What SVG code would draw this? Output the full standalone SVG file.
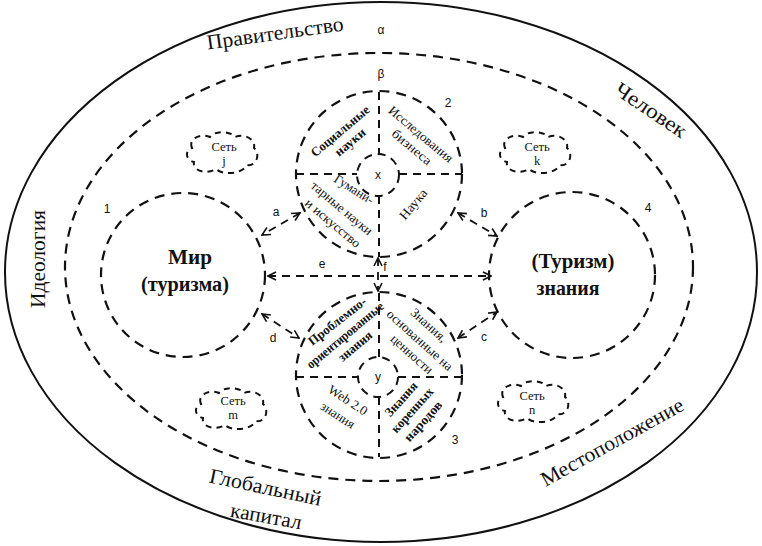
<svg xmlns="http://www.w3.org/2000/svg" xmlns:xlink="http://www.w3.org/1999/xlink" width="762" height="546" viewBox="0 0 762 546">
<style>
.dash{fill:none;stroke:#111;stroke-width:2.2;stroke-dasharray:10 7}
.dashs{fill:none;stroke:#111;stroke-width:2;stroke-dasharray:8 6}
.conn{fill:none;stroke:#111;stroke-width:1.8;stroke-dasharray:8 6;marker-start:url(#ah);marker-end:url(#ah)}
text{font-family:'Liberation Serif','DejaVu Serif','Times New Roman',serif;fill:#111}
.big{font-size:21px}
.main{font-size:22px;font-weight:bold;text-anchor:middle}
.sec{font-size:13px;text-anchor:middle;dominant-baseline:central}
.secb{font-size:13px;font-weight:bold;text-anchor:middle;dominant-baseline:central}
text.lbl{font-family:'Liberation Sans',Arial,sans-serif;font-size:12px;text-anchor:middle}
.net{font-size:12.5px;text-anchor:middle}
</style>
<defs>
<marker id="ah" viewBox="0 0 10 10" refX="9" refY="5" markerWidth="10" markerHeight="10" markerUnits="userSpaceOnUse" orient="auto-start-reverse">
<path d="M1,1 L9,5 L1,9" fill="none" stroke="#111" stroke-width="1.6"/>
</marker>
<path id="cloud" d="M-30,-6 C-34,-15 -22,-21 -12,-17 C-7,-24 9,-23 13,-17 C22,-21 34,-15 32,-6 C39,0 34,13 25,11 C19,21 0,21 -6,15 C-15,21 -30,17 -28,8 C-37,6 -37,-4 -30,-6 Z"/>
</defs>
<rect width="762" height="546" fill="#fff"/>

<g id="outer">
<ellipse cx="381" cy="272" rx="376" ry="270" fill="none" stroke="#111" stroke-width="2"/>
<text class="big" transform="translate(276,40) rotate(-8)" text-anchor="middle" textLength="138" lengthAdjust="spacingAndGlyphs">Правительство</text>
<text class="big" transform="translate(651,110) rotate(34)" text-anchor="middle" dominant-baseline="central" textLength="82" lengthAdjust="spacingAndGlyphs">Человек</text>
<text class="big" transform="translate(38,259) rotate(-90)" text-anchor="middle" dominant-baseline="central" textLength="98" lengthAdjust="spacingAndGlyphs">Идеология</text>
<text class="big" transform="translate(264,494) rotate(12)" text-anchor="middle" textLength="114" lengthAdjust="spacingAndGlyphs">Глобальный</text>
<text class="big" transform="translate(265,523) rotate(10)" text-anchor="middle" textLength="72" lengthAdjust="spacingAndGlyphs">капитал</text>
<text class="big" transform="translate(612,442) rotate(-29)" text-anchor="middle" dominant-baseline="central" textLength="160" lengthAdjust="spacingAndGlyphs">Местоположение</text>
<text class="lbl" x="381" y="34">α</text>
</g>

<g id="inner">
<ellipse cx="379" cy="267" rx="314" ry="214" class="dash"/>
<text class="lbl" x="381" y="78">β</text>
</g>

<g id="node1">
<circle cx="183" cy="275" r="82" class="dash"/>
<text class="main" x="190" y="264" textLength="44" lengthAdjust="spacingAndGlyphs">Мир</text>
<text class="main" x="185" y="291" textLength="88" lengthAdjust="spacingAndGlyphs">(туризма)</text>
<text class="lbl" x="107" y="213">1</text>
</g>

<g id="node4">
<circle cx="572" cy="275" r="83" class="dash"/>
<text class="main" x="573" y="268" textLength="83" lengthAdjust="spacingAndGlyphs">(Туризм)</text>
<text class="main" x="568" y="295" textLength="63" lengthAdjust="spacingAndGlyphs">знания</text>
<text class="lbl" x="648" y="212">4</text>
</g>

<g id="node2">
<circle cx="379" cy="174" r="83" class="dash"/>
<circle cx="378" cy="175" r="21" class="dashs"/>
<path d="M379,92 V154 M379,196 V257 M296,174 H357 M399,174 H462" class="dashs"/>
<text class="lbl" x="378" y="179">x</text>
<text class="lbl" x="448" y="107">2</text>
<text class="secb" transform="translate(340,131) rotate(-40)" textLength="72" lengthAdjust="spacingAndGlyphs">Социальные</text>
<text class="secb" transform="translate(350,142) rotate(-40)" textLength="36" lengthAdjust="spacingAndGlyphs">науки</text>
<text class="sec" transform="translate(421,134) rotate(40)" textLength="80" lengthAdjust="spacingAndGlyphs">Исследования</text>
<text class="sec" transform="translate(412,147) rotate(40)" textLength="48" lengthAdjust="spacingAndGlyphs">бизнеса</text>
<text class="sec" transform="translate(354,189) rotate(32)" textLength="44" lengthAdjust="spacingAndGlyphs">Гумани-</text>
<text class="sec" transform="translate(342,208) rotate(40)" textLength="76" lengthAdjust="spacingAndGlyphs">тарные науки</text>
<text class="sec" transform="translate(333,223) rotate(40)" textLength="68" lengthAdjust="spacingAndGlyphs">и искусство</text>
<text class="sec" transform="translate(413,204) rotate(-50)" textLength="36" lengthAdjust="spacingAndGlyphs">Наука</text>
</g>

<g id="node3">
<circle cx="379" cy="375" r="83" class="dash"/>
<circle cx="378" cy="377" r="20" class="dashs"/>
<path d="M379,293 V357 M379,397 V457 M296,377 H358 M398,377 H462" class="dashs"/>
<text class="lbl" x="378" y="381">y</text>
<text class="lbl" x="455" y="444">3</text>
<text class="secb" transform="translate(337,321) rotate(-38)" textLength="70" lengthAdjust="spacingAndGlyphs">Проблемно-</text>
<text class="secb" transform="translate(345,335) rotate(-40)" textLength="96" lengthAdjust="spacingAndGlyphs">ориентированные</text>
<text class="secb" transform="translate(355,346) rotate(-40)" textLength="40" lengthAdjust="spacingAndGlyphs">знания</text>
<text class="sec" transform="translate(429,325) rotate(42)" textLength="44" lengthAdjust="spacingAndGlyphs">Знания,</text>
<text class="sec" transform="translate(420,340) rotate(42)" textLength="84" lengthAdjust="spacingAndGlyphs">основанные на</text>
<text class="sec" transform="translate(412,354) rotate(42)" textLength="52" lengthAdjust="spacingAndGlyphs">ценности</text>
<text class="sec" transform="translate(348,400) rotate(33)" textLength="44" lengthAdjust="spacingAndGlyphs">Web 2.0</text>
<text class="sec" transform="translate(338,415) rotate(33)" textLength="38" lengthAdjust="spacingAndGlyphs">знания</text>
<text class="secb" transform="translate(401,399) rotate(-48)" textLength="42" lengthAdjust="spacingAndGlyphs">Знания</text>
<text class="secb" transform="translate(412,410) rotate(-48)" textLength="56" lengthAdjust="spacingAndGlyphs">коренных</text>
<text class="secb" transform="translate(423,421) rotate(-48)" textLength="50" lengthAdjust="spacingAndGlyphs">народов</text>
</g>

<g id="netj">
<use xlink:href="#cloud" transform="translate(222,154)" class="dashs" style="stroke-dasharray:6 5"/>
<text class="net" x="224" y="151">Сеть</text>
<text class="net" x="224" y="165">j</text>
</g>
<g id="netk">
<use xlink:href="#cloud" transform="translate(535,154)" class="dashs" style="stroke-dasharray:6 5"/>
<text class="net" x="537" y="151">Сеть</text>
<text class="net" x="537" y="165">k</text>
</g>
<g id="netm">
<use xlink:href="#cloud" transform="translate(231,410)" class="dashs" style="stroke-dasharray:6 5"/>
<text class="net" x="233" y="405">Сеть</text>
<text class="net" x="233" y="419">m</text>
</g>
<g id="netn">
<use xlink:href="#cloud" transform="translate(533,403)" class="dashs" style="stroke-dasharray:6 5"/>
<text class="net" x="532" y="400">Сеть</text>
<text class="net" x="532" y="414">n</text>
</g>

<g id="connectors">
<line x1="300" y1="213" x2="262" y2="235" class="conn"/>
<line x1="458" y1="213" x2="497" y2="236" class="conn"/>
<line x1="458" y1="338" x2="497" y2="312" class="conn"/>
<line x1="262" y1="314" x2="299" y2="338" class="conn"/>
<line x1="268" y1="276" x2="491" y2="276" class="conn"/>
<line x1="378" y1="258" x2="378" y2="291" class="conn"/>
<text class="lbl" x="276" y="216">a</text>
<text class="lbl" x="484" y="217">b</text>
<text class="lbl" x="484" y="341">c</text>
<text class="lbl" x="273" y="342">d</text>
<text class="lbl" x="322" y="268">e</text>
<text class="lbl" x="385" y="271">f</text>
</g>
</svg>
